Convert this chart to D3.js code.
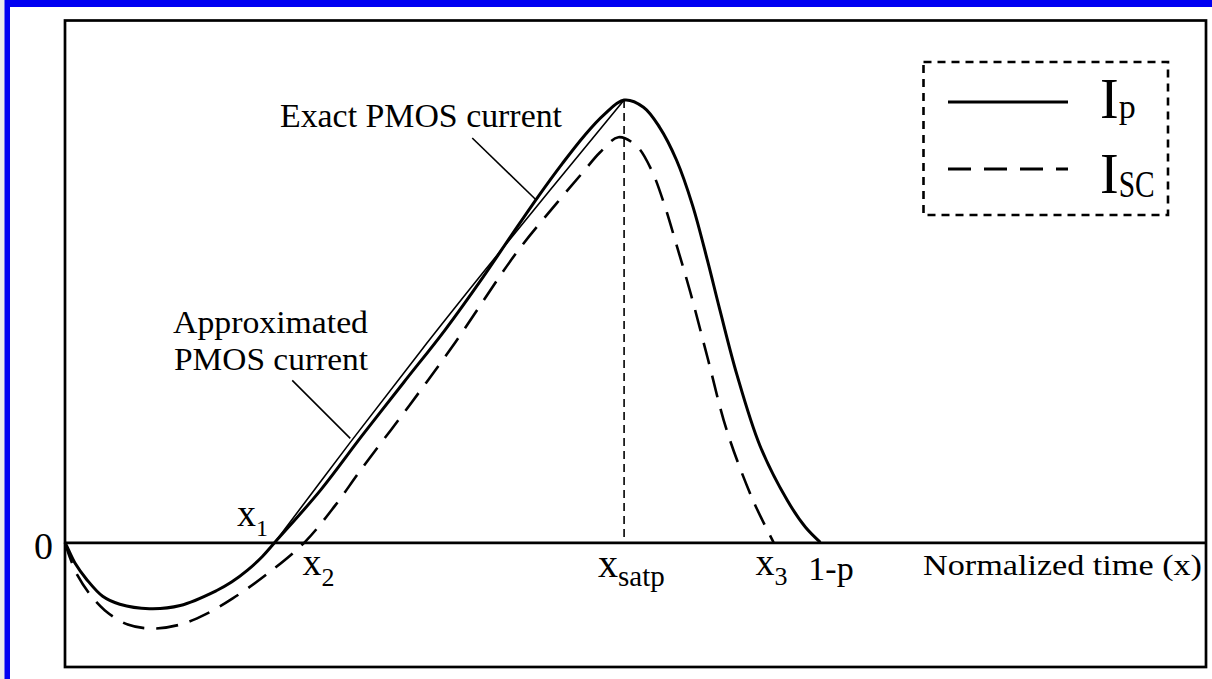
<!DOCTYPE html>
<html>
<head>
<meta charset="utf-8" />
<title>PMOS current</title>
<script src="https://d3js.org/d3.v7.min.js"></script>
<style>
  body { margin: 0; background: #ebebeb; }
  svg { display: block; }
  text { font-family: "Liberation Serif", "Times New Roman", serif; fill: #000; }
</style>
</head>
<body>
<svg id="chart" width="1212" height="679"></svg>
<script>
// normalized time (x) and current, with the peak of Ip = 1
var exactT = [0, 0.002, 0.009, 0.019, 0.033, 0.048, 0.074, 0.101, 0.133, 0.146, 0.160, 0.173, 0.184,
              0.224, 0.260, 0.297, 0.333, 0.367, 0.392, 0.415, 0.436, 0.455, 0.472, 0.490,
              0.507, 0.521, 0.536, 0.550, 0.563, 0.574, 0.589, 0.609, 0.633, 0.649, 0.662];
var exactI = [0, -0.011, -0.048, -0.084, -0.122, -0.140, -0.150, -0.143, -0.109, -0.090, -0.063, -0.032, 0,
              0.118, 0.240, 0.362, 0.480, 0.602, 0.697, 0.783, 0.857, 0.919, 0.966, 1.000,
              0.984, 0.939, 0.864, 0.762, 0.638, 0.525, 0.378, 0.219, 0.095, 0.034, 0];

var approxT = [0.184, 0.250, 0.311, 0.368, 0.425, 0.490];
var approxI = [0, 0.226, 0.430, 0.615, 0.796, 1.000];

var scT = [0, 0.004, 0.011, 0.022, 0.035, 0.055, 0.077, 0.101, 0.123, 0.147, 0.177, 0.210,
           0.237, 0.259, 0.302, 0.342, 0.396, 0.431, 0.454, 0.469, 0.485,
           0.501, 0.514, 0.526, 0.536, 0.548, 0.563, 0.580, 0.603, 0.621];
var scI = [0, -0.032, -0.075, -0.118, -0.154, -0.186, -0.195, -0.186, -0.163, -0.127, -0.072, 0,
           0.084, 0.163, 0.310, 0.452, 0.656, 0.767, 0.837, 0.882, 0.916,
           0.896, 0.842, 0.758, 0.672, 0.566, 0.419, 0.253, 0.095, 0];

// points marked on the time axis
var markMain = ["x", "x", "x", "x", "1-p"];
var markSub = ["1", "2", "satp", "3", ""];
var markT = [0.184, 0.210, 0.490, 0.621, 0.662];

var legendSub = ["p", "SC"];

// layout of the axis labels (px relative to the marked point)
var markDx = [-38, -2, -26, -18, -12];
var markBase = [526, 575, 577, 575, 580];
var markSize = [38, 38, 40, 38, 34];
var subSize = [24, 26, 29, 26, 0];
var subDy = [10, 11, 9, 10, 0];

var svg = d3.select("#chart");

// blue frame
svg.append("rect").attr("x", 4.5).attr("y", 0).attr("width", 1212).attr("height", 700).attr("fill", "#0000f2");
svg.append("rect").attr("x", 10).attr("y", 7).attr("width", 1212).attr("height", 700).attr("fill", "#fff");

var plotL = 65, plotR = 1206, plotT = 20.5, plotB = 667;

var x = d3.scaleLinear().domain([0, 1]).range([plotL, plotR]);
var y = d3.scaleLinear().domain([-0.282, 1.180]).range([plotB, plotT]);

// plot box
svg.append("rect")
    .attr("x", plotL).attr("y", plotT)
    .attr("width", plotR - plotL).attr("height", plotB - plotT)
    .attr("fill", "none").attr("stroke", "#000").attr("stroke-width", 2.7);

// zero line
var xAxis = svg.append("g")
    .attr("transform", "translate(0," + y(0) + ")")
    .call(d3.axisBottom(x).tickValues([]).tickSizeOuter(0));
xAxis.select(".domain").attr("stroke", "#000").attr("stroke-width", 2.7);

var yAxis = svg.append("g")
    .attr("transform", "translate(" + plotL + ",0)")
    .call(d3.axisLeft(y).tickValues([0]).tickSize(0).tickPadding(12).tickFormat(d3.format("d")));
yAxis.select(".domain").remove();
yAxis.selectAll("text")
    .attr("font-family", "Liberation Serif")
    .attr("font-size", 38)
    .attr("dy", "0.42em");

var line = d3.line()
    .x(function(d) { return x(d[0]); })
    .y(function(d) { return y(d[1]); })
    .curve(d3.curveCatmullRom.alpha(0.5));

// vertical dashed line at x_satp
svg.append("line")
    .attr("x1", x(markT[2])).attr("x2", x(markT[2]))
    .attr("y1", y(d3.max(exactI))).attr("y2", y(0))
    .attr("stroke", "#000").attr("stroke-width", 1.6)
    .attr("stroke-dasharray", "8,5");

// ISC
svg.append("path")
    .datum(d3.zip(scT, scI))
    .attr("d", line)
    .attr("fill", "none").attr("stroke", "#000").attr("stroke-width", 2.6)
    .attr("stroke-dasharray", "22,12");

// approximated PMOS current
svg.append("path")
    .datum(d3.zip(approxT, approxI))
    .attr("d", line)
    .attr("fill", "none").attr("stroke", "#000").attr("stroke-width", 1.6);

// exact PMOS current
svg.append("path")
    .datum(d3.zip(exactT, exactI))
    .attr("d", line)
    .attr("fill", "none").attr("stroke", "#000").attr("stroke-width", 3);

// labels on the time axis
markT.forEach(function(t, i) {
    var txt = svg.append("text")
        .attr("x", x(t) + markDx[i])
        .attr("y", markBase[i])
        .attr("font-size", markSize[i])
        .text(markMain[i]);
    if (markSub[i]) {
        txt.append("tspan")
            .attr("font-size", subSize[i])
            .attr("dy", subDy[i])
            .text(markSub[i]);
    }
});

svg.append("text")
    .attr("x", 923).attr("y", 575)
    .attr("font-size", 29)
    .attr("textLength", 279).attr("lengthAdjust", "spacingAndGlyphs")
    .text("Normalized time (x)");

// annotations
var exactTip = [0.413, 0.774];
var approxTip = [0.250, 0.235];

svg.append("line")
    .attr("x1", x(exactTip[0]) - 64).attr("y1", y(exactTip[1]) - 62)
    .attr("x2", x(exactTip[0])).attr("y2", y(exactTip[1]))
    .attr("stroke", "#000").attr("stroke-width", 1.6);
svg.append("text")
    .attr("x", 280).attr("y", 127)
    .attr("font-size", 33)
    .attr("textLength", 282).attr("lengthAdjust", "spacingAndGlyphs")
    .text("Exact PMOS current");

svg.append("line")
    .attr("x1", x(approxTip[0]) - 58).attr("y1", y(approxTip[1]) - 58)
    .attr("x2", x(approxTip[0])).attr("y2", y(approxTip[1]))
    .attr("stroke", "#000").attr("stroke-width", 1.6);
svg.append("text")
    .attr("x", 173).attr("y", 333)
    .attr("font-size", 32)
    .attr("textLength", 195).attr("lengthAdjust", "spacingAndGlyphs")
    .text("Approximated");
svg.append("text")
    .attr("x", 174).attr("y", 370)
    .attr("font-size", 32)
    .attr("textLength", 194).attr("lengthAdjust", "spacingAndGlyphs")
    .text("PMOS current");

// legend
var legend = svg.append("g");
legend.append("rect")
    .attr("x", 923.5).attr("y", 62)
    .attr("width", 244.5).attr("height", 153)
    .attr("fill", "none").attr("stroke", "#000").attr("stroke-width", 2.6)
    .attr("stroke-dasharray", "8,6");

var legendY = [102, 169];
var legendDash = [null, "23,13"];
var legendBase = [118, 193];
var legendSubDy = [0, 4];
var legendSubSize = [34, 38];

legendSub.forEach(function(s, i) {
    legend.append("line")
        .attr("x1", 948).attr("x2", 1068)
        .attr("y1", legendY[i]).attr("y2", legendY[i])
        .attr("stroke", "#000").attr("stroke-width", 3)
        .attr("stroke-dasharray", legendDash[i]);
    var t = legend.append("text")
        .attr("x", 1100).attr("y", legendBase[i])
        .attr("font-size", 56)
        .text("I");
    var st = t.append("tspan")
        .attr("dy", legendSubDy[i])
        .attr("font-size", legendSubSize[i])
        .text(s);
    if (i === 1) st.attr("textLength", 36).attr("lengthAdjust", "spacingAndGlyphs");
});
</script>
</body>
</html>
